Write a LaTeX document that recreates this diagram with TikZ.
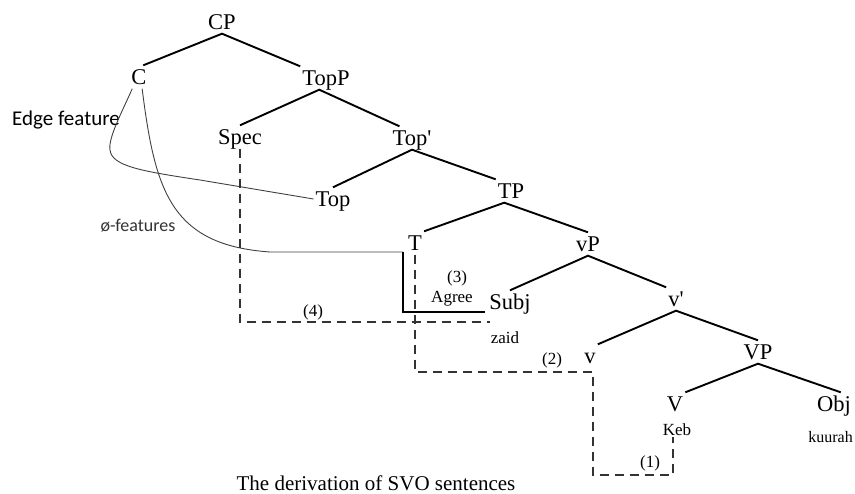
\documentclass[tikz,border=0pt]{standalone}
\usepackage{fontspec}
\setmainfont{Liberation Serif}
\newfontfamily\calib{Carlito}
\begin{document}
\begin{tikzpicture}[x=1pt,y=-1pt,
  lab/.style={font=\fontsize{22.5}{26}\selectfont, inner xsep=2pt, inner ysep=4pt, text height=15pt, text depth=0pt},
  sm/.style={font=\fontsize{17}{20}\selectfont, inner sep=1pt},
  treeedge/.style={line width=1.9pt},
  dsh/.style={line width=1.2pt, black!80, dash pattern=on 9pt off 6pt},
  thinc/.style={line width=0.9pt, black!75},
  agreeline/.style={line width=2.6pt}]
\useasboundingbox (0,0) rectangle (855,494);
% tree nodes
\node[lab] (CP) at (222,22) {CP};
\node[lab] (C) at (139,77) {C};
\node[lab] (TopP) at (326,78) {TopP};
\node[lab] (Spec) at (240,137) {Spec};
\node[lab] (Topbar) at (412,138) {Top\textquotesingle};
\node[lab] (Top) at (333,199) {Top};
\node[lab] (TP) at (511,191) {TP};
\node[lab] (T) at (415,243) {T};
\node[lab] (vP) at (588,244) {vP};
\node[lab] (Subj) at (510,302) {Subj};
\node[lab] (vbar) at (676,299) {v\textquotesingle};
\node[lab] (v) at (590,356) {v};
\node[lab] (VP) at (758,352) {VP};
\node[lab] (V) at (675,404) {V};
\node[lab] (Obj) at (834,404) {Obj};
% small labels
\node[sm] (zaid) at (505,338) {zaid};
\node[sm] (Keb) at (677,430) {Keb};
\node[sm, anchor=east, font=\fontsize{16}{19}\selectfont] (kuurah) at (854,437) {kuurah};
\node[sm] (l3) at (457,278) {(3)};
\node[sm] (agree) at (452,299) {Agree};
\node[sm] (l4) at (313,312) {(4)};
\node[sm] (l2) at (552,360) {(2)};
\node[sm] (l1) at (650,463) {(1)};
\node[font=\calib\fontsize{21}{24}\selectfont, inner sep=1pt] (edgef) at (66,120) {Edge feature};
\node[font=\calib\fontsize{18}{21}\selectfont, text=black!80, inner sep=1pt] (phif) at (138,226) {ø-features};
\node[font=\fontsize{21}{24}\selectfont, anchor=base] (title) at (376,490) {The derivation of SVO sentences};
% tree edges
\draw[treeedge] (C.70) -- (CP.south) -- (TopP.north west);
\draw[treeedge] (Spec.north) -- (TopP.-120) -- (Topbar.137);
\draw[treeedge] (Top.north) -- (Topbar.south) -- (TP.north west);
\draw[treeedge] (T.north east) -- (TP.-120) -- (vP.north);
\draw[treeedge] (Subj.north) -- (vP.south) -- (vbar.north west);
\draw[treeedge] (v.north east) -- (vbar.south) -- (VP.north);
\draw[treeedge] (V.north east) -- (VP.south) -- (Obj.60);
% feature curves
\coordinate (tcorner) at (403,252);
\draw[thinc] (C.-120) .. controls (122,112) and (108,138) .. (110,150)
  .. controls (112,166) and (140,171) .. (200,180) -- (Top.west);
\draw[thinc] (C.-75) .. controls (155,190) and (170,245) .. (270,252) -- (tcorner);
% agree line
\coordinate (agreeend) at (485,312);
\draw[agreeline] (tcorner) |- (agreeend);
% dashed movement paths
\coordinate (d4) at (490,322);
\draw[dsh] (Spec.south) -- (Spec.south |- d4) -- (d4);
\coordinate (c2) at (593,372);
\coordinate (c1) at (673,475);
\draw[dsh] (T.south) -- (T.south |- c2) -- (c2) -- (c2 |- c1) -- (c1) -- (c1 |- Keb.south);
\end{tikzpicture}
\end{document}
